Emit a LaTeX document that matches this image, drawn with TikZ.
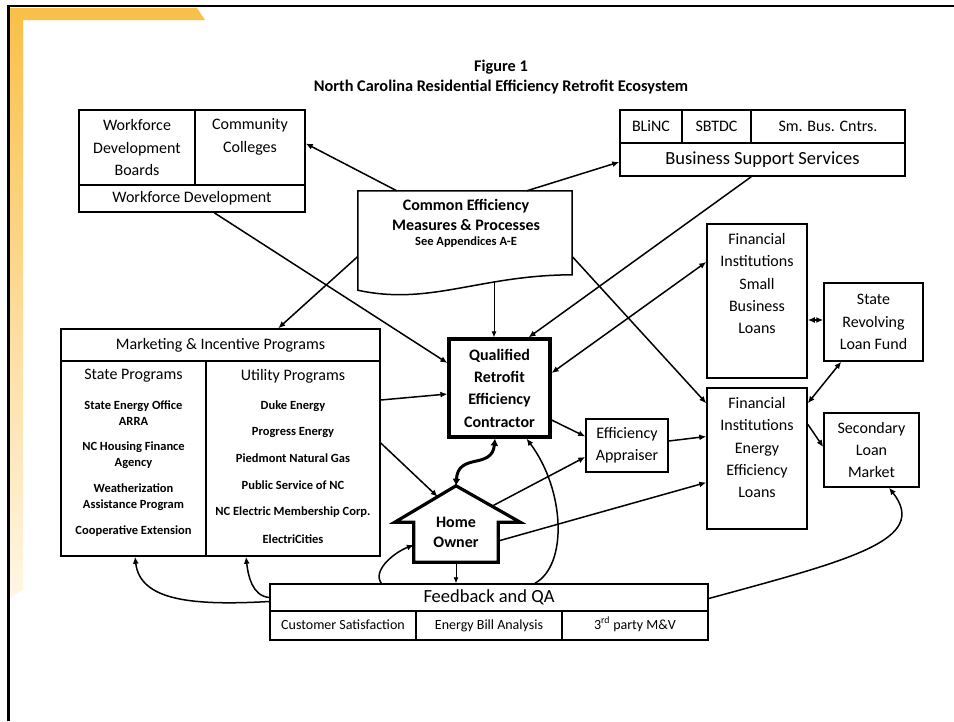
\documentclass[tikz,border=0pt]{standalone}
\usepackage{fontspec}
\setmainfont{Carlito}
\usetikzlibrary{arrows.meta,calc}
\newcommand\fsz[2]{\fontsize{#1}{#2}\selectfont}
\definecolor{bandtop}{RGB}{249,192,72}
\definecolor{bandbot}{RGB}{255,246,228}
\begin{document}
\begin{tikzpicture}[x=1pt,y=-1pt,
  cellbox/.style={draw,line width=1.5pt,inner sep=0pt,align=center,font=\fsz{16}{22.3}},
  txt/.style={inner sep=0pt,align=center,font=\fsz{16}{22.3}},
  boldtxt/.style={inner sep=0pt,align=center,font=\fsz{16}{22.3}\bfseries},
  mitem/.style={inner sep=0pt,align=center,font=\fsz{12.5}{15.5}\bfseries},
  conn/.style={line width=1.5pt,-{Latex[length=7pt,width=6pt]}},
  dconn/.style={line width=1.5pt,{Latex[length=7pt,width=6pt]}-{Latex[length=7pt,width=6pt]}},
  thinconn/.style={line width=0.9pt,-{Latex[length=6pt,width=5pt]}},
  smallcell/.style={draw,line width=1.5pt,inner sep=0pt,font=\fsz{14}{16},text height=10pt,text depth=3pt},
]
\useasboundingbox (0,0) rectangle (954,721);
\fill[white] (0,0) rectangle (954,721);
% slide frame
\shade[top color=bandtop,bottom color=bandbot] (10,8) -- (197,8) -- (205,20) -- (23,20) -- (23,590) -- (10,597) -- cycle;
\draw[line width=2.5pt] (8.5,721) -- (8.5,6) -- (954,6);

% title
\node[font=\fsz{16.3}{20}\bfseries] (fig) at (501,67) {Figure 1};
\node[font=\fsz{16.3}{20}\bfseries] (ttl) at (501,87) {North Carolina Residential Efficiency Retrofit Ecosystem};

% workforce
\node[cellbox,minimum width=116,minimum height=75] (wfb) at (137,147.5) {Workforce\\Development\\Boards};
\node[cellbox,minimum width=110,minimum height=75] (cc) at (250,147.5) {};
\node[txt] (cct) at (250,137) {Community\\Colleges};
\node[cellbox,minimum width=226,minimum height=27] (wfd) at (192,198.5) {Workforce Development};

% business support
\node[cellbox,minimum width=62,minimum height=33] (blinc) at (651,126.5) {BLiNC};
\node[cellbox,minimum width=69,minimum height=33] (sbtdc) at (716.5,126.5) {SBTDC};
\node[cellbox,minimum width=154,minimum height=33] (smbus) at (828,126.5) {Sm. Bus. Cntrs.};
\node[cellbox,minimum width=285,minimum height=33,font=\fsz{18.5}{22}] (bss) at (762.5,159.5) {Business Support Services};

% common efficiency document
\node[minimum width=214,minimum height=99,inner sep=0pt] (cem) at (465,240.5) {};
\draw[line width=1.5pt,line join=miter] (cem.north west) -- (cem.north east) -- ($(cem.north east)+(0,84)$) .. controls (480,275) and (430,306) .. (cem.south west) -- cycle;
\node[boldtxt] (cem1) at (466,206) {Common Efficiency};
\node[boldtxt] (cem2) at (466,225) {Measures \& Processes};
\node[font=\fsz{12.5}{14}\bfseries] (cem3) at (466,242) {See Appendices A-E};

% marketing
\node[cellbox,minimum width=319,minimum height=32] (mip) at (220.5,345) {Marketing \& Incentive Programs};
\node[cellbox,minimum width=145,minimum height=195] (sp) at (133.5,458.5) {};
\node[cellbox,minimum width=174,minimum height=195] (up) at (293,458.5) {};
\node[txt] (spt) at (133.5,376) {State Programs};
\node[txt] (upt) at (293,376) {Utility Programs};
\node[mitem] (s1) at (133.5,413) {State Energy Office\\ARRA};
\node[mitem] (s2) at (133.5,455) {NC Housing Finance\\Agency};
\node[mitem] (s3) at (133.5,497) {Weatherization\\Assistance Program};
\node[mitem] (s4) at (133.5,531) {Cooperative Extension};
\node[mitem] (u1) at (293,406) {Duke Energy};
\node[mitem] (u2) at (293,432) {Progress Energy};
\node[mitem] (u3) at (293,458) {Piedmont Natural Gas};
\node[mitem] (u4) at (293,485) {Public Service of NC};
\node[mitem] (u5) at (293,512) {NC Electric Membership Corp.};
\node[mitem] (u6) at (293,539) {ElectriCities};

% contractor
\node[draw,line width=3.2pt,minimum width=101,minimum height=98,inner sep=0pt,align=center,font=\fsz{16}{22.3}\bfseries] (qrec) at (499.5,388) {Qualified\\Retrofit\\Efficiency\\Contractor};

% appraiser
\node[cellbox,minimum width=82,minimum height=53] (ea) at (627,445.5) {Efficiency\\Appraiser};

% home owner
\node[inner sep=0pt,minimum width=84,minimum height=60,align=center,font=\fsz{16}{20}\bfseries] (ho) at (456,532) {Home\\Owner};
\draw[line width=3.2pt,line join=miter] (ho.south west) -- (ho.south east) -- ($(ho.south east)+(0,-40)$) -- ($(ho.south east)+(22,-40)$) coordinate (wingR) -- ($(ho.north)+(0,-16)$) coordinate (apex) -- ($(ho.south west)+(-19,-40)$) coordinate (wingL) -- ($(ho.south west)+(0,-40)$) -- cycle;
\coordinate (roofL) at ($(apex)!0.3!(wingL)$);
\coordinate (roofR) at ($(apex)!0.56!(wingR)$);

% financial
\node[cellbox,minimum width=100,minimum height=154] (fisb) at (757,301) {};
\node[txt] (fisbt) at (757,283.5) {Financial\\Institutions\\Small\\Business\\Loans};
\node[cellbox,minimum width=99,minimum height=78] (srlf) at (873.5,322) {State\\Revolving\\Loan Fund};
\node[cellbox,minimum width=100,minimum height=141] (fiee) at (757,458.5) {};
\node[txt] (fieet) at (757,447.5) {Financial\\Institutions\\Energy\\Efficiency\\Loans};
\node[cellbox,minimum width=95,minimum height=74] (slm) at (871.5,450) {Secondary\\Loan\\Market};

% feedback
\node[cellbox,minimum width=438,minimum height=27,font=\fsz{18.5}{20}] (fqa) at (489,597.5) {Feedback and QA};
\node[smallcell,minimum width=146,minimum height=29] (cs) at (343,625.5) {Customer Satisfaction};
\node[smallcell,minimum width=146,minimum height=29] (eba) at (489,625.5) {Energy Bill Analysis};
\node[smallcell,minimum width=146,minimum height=29] (mv) at (635,625.5) {3\textsuperscript{rd} party M\&V};

% connectors
\draw[conn] ($(cem.north west)+(39,0)$) -- ($(cc.east)+(0,-4)$);
\draw[conn] ($(cem.north west)+(169,0)$) -- ($(bss.west)+(0,2.5)$);
\draw[conn] ($(wfd.south west)+(136,0)$) -- ($(qrec.west)+(0,-25)$);
\draw[conn] ($(cem.west)+(0,16)$) -- ($(mip.north west)+(218,0)$);
\draw[thinconn] ($(cem.south)+(29,-8)$) -- ($(qrec.north)+(-5.5,0)$);
\draw[conn] ($(bss.south west)+(132,0)$) -- ($(qrec.north east)+(-23,0)$);
\draw[conn] ($(cem.east)+(0,16)$) -- ($(fiee.north west)+(0,16)$);
\draw[dconn] ($(qrec.east)+(0,-15)$) -- ($(fisb.west)+(0,-39)$);
\draw[dconn] ($(fisb.east)+(0,19)$) -- ($(srlf.west)+(0,-2)$);
\draw[dconn] ($(fiee.north east)+(0,16)$) -- ($(srlf.south west)+(18,0)$);
\draw[conn] ($(fiee.north east)+(0,37)$) -- ($(slm.west)+(0,-3)$);
\draw[conn] ($(ea.east)+(0,-4.5)$) -- ($(fiee.west)+(0,-22)$);
\draw[conn] ($(ho.east)+(0,9)$) -- ($(fiee.west)+(0,24)$);
\draw[conn] (roofR) -- ($(ea.west)+(0,11.5)$);
\draw[conn] ($(qrec.east)+(0,32)$) -- ($(ea.west)+(0,-9)$);
\draw[conn] ($(up.east)+(0,-58.5)$) -- ($(qrec.west)+(0,6)$);
\draw[conn] ($(up.east)+(0,-15.5)$) -- (roofL);
\draw[line width=3pt,{Latex[length=7pt,width=8pt]}-{Latex[length=7pt,width=8pt]}] ($(qrec.south)+(-4.5,0)$) .. controls (492,470) and (458,452) .. (apex);
\draw[thinconn] (ho.south) -- ($(fqa.north)+(-33,0)$);
\draw[conn] ($(fqa.north)+(46,0)$) .. controls (568,565) and (565,490) .. ($(qrec.south)+(27,0)$);
\draw[conn] ($(fqa.north west)+(112,0)$) .. controls (372,570) and (395,552) .. ($(ho.west)+(0,13)$);
\draw[conn] ($(fqa.west)+(0,4)$) .. controls (190,606) and (140,600) .. ($(sp.south)+(1.5,0)$);
\draw[conn] ($(fqa.west)+(0,0)$) .. controls (252,596) and (248,575) .. ($(up.south)+(-47,0)$);
\draw[conn] ($(fqa.east)+(0,1)$) .. controls (850,560) and (930,540) .. ($(slm.south)+(17.5,0)$);
\end{tikzpicture}
\end{document}
